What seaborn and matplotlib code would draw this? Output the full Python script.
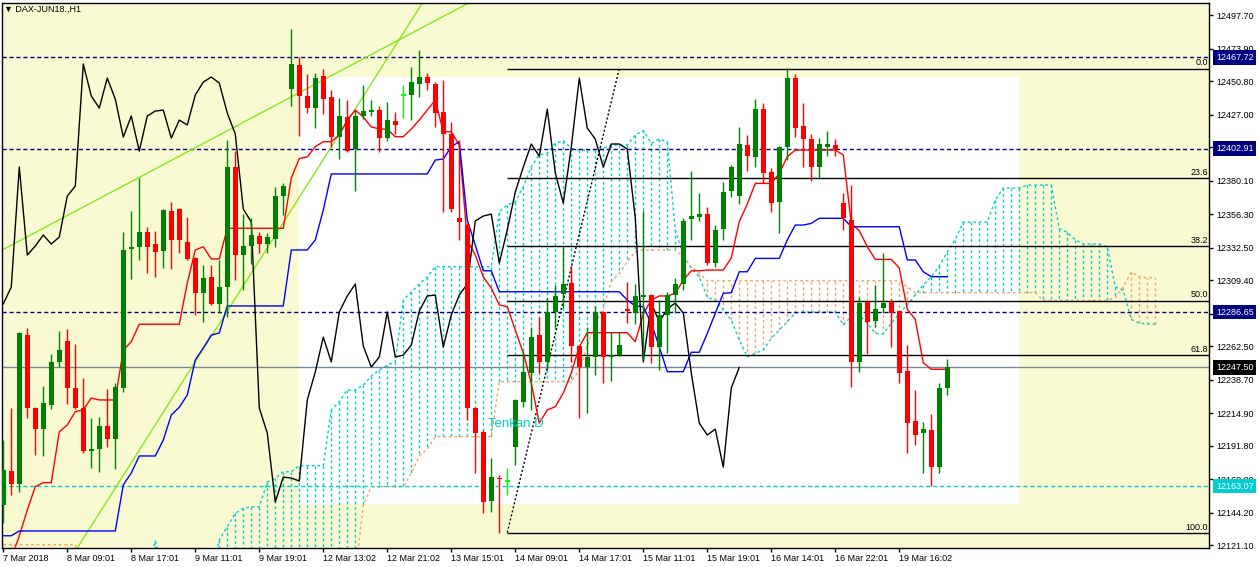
import numpy as np
import matplotlib
matplotlib.use("Agg")
import matplotlib.pyplot as plt
import matplotlib.transforms as mtransforms
from matplotlib.patches import Rectangle
import seaborn as sns

# DAX-JUN18 H1 candles, oldest first (bar 0 = 7 Mar 2018)
opens = [
    12149.6, 12174.0, 12164.6, 12270.4, 12218.6, 12203.6, 12220.7, 12251.3, 12266.2, 12232.8,
    12218.6, 12188.0, 12189.4, 12205.8, 12196.5, 12232.8, 12331.6, 12333.0, 12343.6, 12335.1,
    12330.1, 12358.6, 12360.0, 12336.6, 12325.2, 12300.3, 12311.7, 12292.5, 12304.6, 12389.8,
    12327.3, 12333.7, 12340.8, 12335.1, 12338.7, 12369.2, 12445.3, 12462.3, 12440.3, 12431.8,
    12454.5, 12439.6, 12411.1, 12425.4, 12402.6, 12426.1, 12428.9, 12430.3, 12410.4, 12422.5,
    12441.0, 12441.0, 12448.8, 12453.8, 12448.8, 12428.9, 12413.3, 12353.6, 12348.6, 12218.6,
    12201.5, 12152.5, 12169.5, 12166.7, 12190.9, 12222.8, 12243.5, 12270.4, 12251.3, 12286.8,
    12299.6, 12307.4, 12262.6, 12247.7, 12254.8, 12286.8, 12254.8, 12256.2, 12289.0, 12286.1,
    12297.5, 12298.9, 12261.9, 12284.7, 12298.9, 12306.7, 12352.9, 12354.3, 12356.4, 12321.6,
    12345.8, 12372.8, 12369.2, 12405.5, 12396.9, 12431.0, 12386.3, 12364.9, 12404.0, 12453.1,
    12419.0, 12409.7, 12389.8, 12404.0, 12405.5, 12364.2, 12352.2, 12251.3, 12293.9, 12280.4,
    12289.6, 12293.9, 12287.5, 12244.9, 12209.3, 12200.8, 12202.9, 12176.6, 12232.8,
]
highs = [
    12195.8, 12218.6, 12272.8, 12275.4, 12219.3, 12234.2, 12257.0, 12273.3, 12274.7, 12264.1,
    12239.9, 12211.5, 12212.2, 12232.1, 12236.4, 12343.6, 12358.6, 12382.0, 12347.2, 12344.3,
    12360.0, 12365.0, 12360.7, 12354.3, 12325.9, 12320.2, 12320.2, 12323.8, 12409.0, 12401.2,
    12356.4, 12353.6, 12343.6, 12342.9, 12375.6, 12378.5, 12487.9, 12468.0, 12455.9, 12456.6,
    12459.5, 12444.5, 12438.9, 12437.4, 12430.3, 12448.1, 12437.4, 12433.2, 12436.0, 12428.9,
    12448.1, 12460.9, 12473.0, 12456.6, 12450.2, 12451.7, 12421.8, 12409.0, 12350.0, 12219.3,
    12202.9, 12183.0, 12171.0, 12175.9, 12225.0, 12259.1, 12276.1, 12283.2, 12296.7, 12306.0,
    12333.0, 12319.5, 12263.3, 12276.1, 12291.1, 12287.5, 12272.6, 12272.6, 12308.1, 12306.7,
    12358.6, 12299.6, 12295.3, 12301.0, 12311.0, 12353.6, 12387.0, 12371.4, 12361.4, 12348.6,
    12379.2, 12391.2, 12418.3, 12412.6, 12438.1, 12435.3, 12389.1, 12404.7, 12460.2, 12455.9,
    12435.3, 12413.3, 12410.4, 12415.4, 12409.7, 12371.4, 12377.0, 12297.5, 12294.6, 12306.0,
    12328.7, 12296.0, 12288.2, 12263.3, 12231.4, 12208.6, 12214.3, 12236.4, 12253.4,
]
lows = [
    12136.9, 12156.7, 12159.1, 12211.5, 12185.1, 12184.4, 12217.9, 12247.7, 12221.5, 12218.0,
    12186.6, 12175.9, 12173.1, 12190.9, 12175.2, 12230.0, 12310.2, 12323.8, 12314.5, 12311.7,
    12318.1, 12317.3, 12328.7, 12323.8, 12284.7, 12279.7, 12291.8, 12286.1, 12283.2, 12309.5,
    12302.4, 12320.9, 12328.7, 12328.7, 12333.0, 12355.7, 12433.2, 12411.9, 12428.2, 12417.5,
    12427.5, 12404.0, 12395.5, 12400.5, 12372.8, 12423.9, 12426.1, 12400.5, 12408.3, 12413.3,
    12424.6, 12423.2, 12439.6, 12444.5, 12418.3, 12357.9, 12357.9, 12338.0, 12210.0, 12172.4,
    12144.0, 12144.7, 12129.8, 12156.7, 12178.1, 12219.6, 12217.2, 12243.5, 12245.6, 12276.1,
    12289.6, 12251.3, 12211.5, 12215.0, 12242.0, 12236.3, 12237.8, 12255.5, 12279.0, 12278.3,
    12252.7, 12250.6, 12245.6, 12257.7, 12286.1, 12302.4, 12338.0, 12351.5, 12320.2, 12318.8,
    12338.0, 12368.5, 12363.5, 12387.0, 12389.8, 12378.5, 12357.9, 12342.9, 12394.8, 12411.1,
    12389.8, 12379.9, 12381.3, 12397.6, 12397.6, 12345.1, 12233.5, 12244.2, 12257.0, 12276.1,
    12286.1, 12261.9, 12236.3, 12186.6, 12192.3, 12172.4, 12163.1, 12172.4, 12227.8,
]
closes = [
    12174.5, 12164.6, 12272.1, 12218.4, 12203.6, 12222.2, 12251.3, 12259.8, 12232.8, 12218.6,
    12188.0, 12189.4, 12205.8, 12196.5, 12233.5, 12330.9, 12333.0, 12343.6, 12333.0, 12329.4,
    12359.3, 12338.0, 12338.0, 12324.5, 12300.3, 12311.0, 12292.5, 12304.6, 12389.8, 12327.3,
    12333.7, 12341.5, 12335.1, 12340.1, 12369.2, 12376.3, 12463.0, 12440.3, 12431.8, 12453.1,
    12438.1, 12411.1, 12426.1, 12401.2, 12426.1, 12429.6, 12430.3, 12410.4, 12423.2, 12419.7,
    12441.0, 12450.2, 12453.8, 12449.5, 12428.2, 12413.3, 12360.0, 12350.8, 12218.6, 12200.8,
    12151.8, 12169.5, 12168.8, 12166.7, 12224.3, 12244.2, 12269.0, 12251.3, 12286.8, 12298.2,
    12306.7, 12262.6, 12247.7, 12254.8, 12286.8, 12254.8, 12256.2, 12263.3, 12287.5, 12298.2,
    12298.9, 12261.9, 12284.7, 12298.9, 12306.7, 12351.5, 12355.0, 12356.4, 12321.6, 12345.1,
    12372.1, 12389.8, 12406.2, 12397.6, 12431.0, 12385.6, 12364.2, 12404.0, 12453.1, 12417.5,
    12409.7, 12389.8, 12406.2, 12406.2, 12402.6, 12353.6, 12251.3, 12293.2, 12279.7, 12288.9,
    12293.2, 12286.1, 12243.5, 12207.9, 12199.4, 12203.6, 12176.6, 12232.8, 12247.5,
]

# Ichimoku lines
tenkan = [
    12100.0, 12112.0, 12127.6, 12146.1, 12162.7, 12165.5, 12165.5, 12201.7, 12206.5, 12216.0,
    12217.2, 12225.7, 12224.3, 12224.3, 12224.3, 12259.8, 12265.7, 12278.1, 12278.1, 12278.1,
    12278.1, 12278.1, 12278.1, 12307.4, 12330.9, 12333.2, 12324.5, 12324.5, 12346.3, 12346.3,
    12346.3, 12346.3, 12346.3, 12346.3, 12346.3, 12346.3, 12382.0, 12395.9, 12397.0, 12404.3,
    12407.8, 12407.8, 12412.6, 12423.2, 12430.3, 12425.4, 12418.3, 12417.0, 12416.6, 12411.4,
    12411.4, 12416.8, 12423.2, 12430.3, 12437.4, 12414.9, 12414.9, 12405.5, 12338.0, 12327.3,
    12311.7, 12303.8, 12291.8, 12290.6, 12274.0, 12257.7, 12236.3, 12207.9, 12217.2, 12219.5,
    12229.2, 12243.5, 12262.1, 12272.1, 12272.1, 12272.1, 12272.1, 12272.1, 12272.1, 12265.7,
    12285.4, 12295.3, 12298.2, 12298.2, 12300.1, 12309.5, 12316.1, 12316.1, 12316.6, 12316.6,
    12316.6, 12325.2, 12351.0, 12363.5, 12378.2, 12378.2, 12378.2, 12385.3, 12397.2, 12401.9,
    12401.9, 12401.9, 12401.9, 12401.9, 12401.9, 12398.4, 12349.8, 12344.6, 12333.2, 12324.2,
    12324.2, 12324.2, 12318.1, 12288.7, 12281.6, 12250.8, 12246.1, 12246.1, 12246.1,
]
kijun = [
    12127.8, 12127.8, 12131.2, 12131.2, 12131.2, 12131.2, 12131.2, 12131.2, 12131.2, 12131.2,
    12131.2, 12131.2, 12131.2, 12131.2, 12131.2, 12163.9, 12172.4, 12184.5, 12184.5, 12184.5,
    12195.8, 12213.6, 12219.1, 12227.8, 12252.7, 12261.2, 12270.4, 12271.9, 12291.1, 12291.1,
    12291.1, 12291.1, 12291.1, 12291.1, 12291.1, 12291.1, 12330.9, 12330.9, 12330.9, 12338.0,
    12359.3, 12384.9, 12384.9, 12384.9, 12384.9, 12384.9, 12384.9, 12384.9, 12384.9, 12384.9,
    12384.9, 12384.9, 12384.9, 12384.9, 12394.8, 12395.5, 12404.3, 12407.8, 12352.2, 12334.4,
    12316.1, 12316.1, 12301.2, 12301.2, 12301.2, 12301.2, 12301.2, 12301.2, 12301.2, 12301.2,
    12301.2, 12301.2, 12301.2, 12301.2, 12301.2, 12301.2, 12301.2, 12301.2, 12295.3, 12291.1,
    12290.6, 12278.8, 12262.1, 12244.4, 12244.4, 12244.4, 12258.2, 12258.2, 12271.6, 12285.9,
    12300.1, 12300.5, 12315.4, 12315.4, 12324.9, 12324.9, 12324.9, 12324.9, 12338.0, 12348.6,
    12348.6, 12349.8, 12353.4, 12353.4, 12353.4, 12353.4, 12347.4, 12347.4, 12347.4, 12347.4,
    12347.4, 12347.4, 12347.4, 12323.8, 12323.8, 12315.4, 12311.9, 12311.9, 12311.9,
]
# cloud spans run 26 bars past the last candle
span_a = [
    12100.0, 12100.0, 12100.0, 12100.0, 12100.0, 12100.0, 12100.0, 12100.0, 12100.0, 12100.0,
    12100.0, 12100.0, 12100.0, 12100.0, 12100.0, 12100.0, 12100.0, 12100.0, 12100.0, 12124.1,
    12100.0, 12100.0, 12100.0, 12100.0, 12100.0, 12100.0, 12100.0, 12124.8, 12134.2, 12143.8,
    12147.3, 12148.4, 12148.4, 12166.0, 12168.6, 12173.3, 12173.3, 12177.6, 12177.6, 12177.6,
    12177.6, 12217.2, 12223.1, 12231.4, 12231.4, 12234.9, 12241.3, 12245.6, 12249.1, 12251.5,
    12295.3, 12301.0, 12306.7, 12311.7, 12319.0, 12319.0, 12319.0, 12319.0, 12319.0, 12319.0,
    12319.0, 12319.0, 12358.1, 12362.8, 12365.2, 12375.8, 12390.0, 12398.4, 12399.6, 12406.7,
    12408.5, 12403.1, 12401.9, 12401.9, 12401.9, 12403.1, 12405.5, 12405.5, 12405.5, 12412.6,
    12415.8, 12406.7, 12409.7, 12407.8, 12345.1, 12327.0, 12317.9, 12311.9, 12297.2, 12295.3,
    12288.2, 12281.1, 12266.9, 12255.0, 12257.4, 12259.8, 12268.1, 12274.0, 12279.9, 12286.3,
    12286.8, 12286.8, 12286.8, 12286.8, 12286.8, 12277.6, 12283.5, 12284.7, 12278.8, 12271.6,
    12271.2, 12278.8, 12285.9, 12291.8, 12298.9, 12306.0, 12311.9, 12319.5, 12329.5, 12338.3,
    12350.7, 12350.7, 12350.7, 12350.7, 12366.4, 12374.9, 12374.9, 12374.9, 12377.0, 12377.0,
    12377.0, 12377.0, 12346.0, 12343.4, 12338.2, 12335.1, 12335.1, 12335.1, 12333.1, 12304.7,
    12302.1, 12281.5, 12279.0, 12278.3, 12278.3,
]
span_b = [
    12121.5, 12121.5, 12121.5, 12121.5, 12121.5, 12121.5, 12121.5, 12121.5, 12121.5, 12121.5,
    12100.0, 12100.0, 12100.0, 12100.0, 12100.0, 12100.0, 12100.0, 12100.0, 12100.0, 12100.0,
    12100.0, 12100.0, 12100.0, 12100.0, 12100.0, 12100.0, 12100.0, 12100.0, 12100.0, 12100.0,
    12100.0, 12100.0, 12100.0, 12100.0, 12100.0, 12100.0, 12100.0, 12100.0, 12100.0, 12100.0,
    12100.0, 12100.0, 12100.0, 12100.0, 12100.0, 12149.6, 12162.7, 12162.7, 12162.7, 12162.7,
    12162.7, 12172.2, 12184.5, 12189.4, 12198.2, 12198.2, 12198.2, 12198.2, 12198.2, 12198.2,
    12198.2, 12198.2, 12237.3, 12237.3, 12237.3, 12237.3, 12237.3, 12237.3, 12237.3, 12237.3,
    12237.3, 12237.3, 12245.6, 12262.1, 12278.8, 12289.4, 12308.3, 12314.3, 12322.5, 12329.6,
    12330.9, 12330.9, 12330.9, 12330.9, 12330.9, 12326.1, 12319.0, 12314.3, 12309.0, 12309.0,
    12309.0, 12309.0, 12309.0, 12309.0, 12309.0, 12309.0, 12309.0, 12309.0, 12309.0, 12309.0,
    12309.0, 12309.0, 12309.0, 12309.0, 12309.0, 12309.0, 12309.0, 12309.0, 12309.0, 12309.0,
    12309.0, 12309.0, 12309.0, 12304.8, 12300.6, 12300.6, 12300.6, 12300.6, 12300.6, 12300.6,
    12300.6, 12300.6, 12300.6, 12300.6, 12300.6, 12300.6, 12300.6, 12300.6, 12300.6, 12300.6,
    12295.0, 12295.0, 12295.0, 12295.0, 12295.0, 12295.0, 12295.0, 12295.0, 12295.0, 12297.0,
    12304.7, 12315.2, 12311.9, 12311.1, 12311.1,
]
chikou_shift = 26

# x axis labels, one every 8 bars
time_labels = ["7 Mar 2018", "8 Mar 09:01", "8 Mar 17:01", "9 Mar 11:01", "9 Mar 19:01",
               "12 Mar 13:02", "12 Mar 21:02", "13 Mar 15:01", "14 Mar 09:01", "14 Mar 17:01",
               "15 Mar 11:01", "15 Mar 19:01", "16 Mar 14:01", "16 Mar 22:01", "19 Mar 16:02"]
label_step = 8
price_ticks = [12497.70, 12473.90, 12450.80, 12427.00, 12403.90, 12380.10, 12356.30, 12332.50,
               12309.40, 12285.60, 12262.50, 12238.70, 12214.90, 12191.80, 12168.00, 12144.20, 12121.10]

# chart objects
hline_navy = [12467.72, 12402.91, 12286.65]
hline_cyan = 12163.07
last_price = 12247.50
fib_bars = [63, 77]
fib_prices = [12130.0, 12459.8]
fib_levels = [0.0, 23.6, 38.2, 50.0, 61.8, 100.0]
trend1_bars, trend1_prices = [0, 50], [12331.3, 12481.8]
trend2_bars, trend2_prices = [20, 40], [12215.6, 12395.2]
rect_bars = [37, 127]
rect_prices = [12150.4, 12453.8]
note_bar, note_price, note_text = 60.6, 12205.3, "Tenkan D"

BG = "#FAFAD2"
CYAN = "#00CED1"
SANDY = "#F4A460"
NAVY = "#000080"
DOT = (0, (2, 2))

sns.set_theme(style="white")
plt.rcParams["font.family"] = ["Liberation Sans", "DejaVu Sans"]

W, H = 1258, 567
fig = plt.figure(figsize=(W / 100, H / 100), dpi=100)
fig.patch.set_facecolor("white")
ax = fig.add_axes([2 / W, 19 / H, 1207 / W, 545 / H])
ax.set_facecolor(BG)
x0 = -0.16
ax.set_xlim(x0, x0 + 1207 / 8)
ax.set_ylim(12119.1, 12506.4)

bars = np.arange(len(closes))
bars_ext = np.arange(len(span_a))
o, h, l, c = map(np.array, (opens, highs, lows, closes))
sa, sb = np.array(span_a), np.array(span_b)

# white rectangle object
ax.add_patch(Rectangle((rect_bars[0], rect_prices[0]), rect_bars[1] - rect_bars[0],
                       rect_prices[1] - rect_prices[0], facecolor="white",
                       edgecolor="none", zorder=0.5))

# cloud hatch, one dotted stroke per bar
hatch_cols = np.where(sa >= sb, CYAN, SANDY)
ax.vlines(bars_ext, sa, sb, colors=hatch_cols, linestyles=[DOT], linewidth=1, zorder=1)
sns.lineplot(x=bars_ext, y=sa, color=CYAN, linewidth=1, linestyle=DOT, ax=ax, zorder=1.2)
sns.lineplot(x=bars_ext, y=sb, color=SANDY, linewidth=1, linestyle=DOT, ax=ax, zorder=1.2)

# horizontal lines
for p in hline_navy:
    ax.axhline(p, color=NAVY, linewidth=1, linestyle=(0, (3, 2)), zorder=2)
ax.axhline(hline_cyan, color=CYAN, linewidth=1, linestyle=(0, (3, 2)), zorder=2)
ax.axhline(last_price, color="#778899", linewidth=1, zorder=2)

# fibonacci retracement
x_right = ax.get_xlim()[1]
fib_span = fib_prices[1] - fib_prices[0]
for lev in fib_levels:
    p = fib_prices[1] - fib_span * lev / 100
    ax.hlines(p, fib_bars[0], x_right, color="black", linewidth=1, zorder=2)
    ax.text(x_right - 0.15, p + 0.8, f"{lev:.1f}", ha="right", va="bottom",
            fontsize=6.5, color="black", zorder=2)
ax.plot(fib_bars, fib_prices, color="black", linewidth=1, linestyle=(0, (1.5, 1.5)), zorder=2)

# trend lines
ax.axline((trend1_bars[0], trend1_prices[0]), (trend1_bars[1], trend1_prices[1]),
          color="#86E81E", linewidth=1, zorder=2)
ax.axline((trend2_bars[0], trend2_prices[0]), (trend2_bars[1], trend2_prices[1]),
          color="#86E81E", linewidth=1, zorder=2)

# tenkan, kijun, chikou
sns.lineplot(x=bars, y=tenkan, color="#FF0000", linewidth=1, ax=ax, zorder=3)
sns.lineplot(x=bars, y=kijun, color="#0000FF", linewidth=1, ax=ax, zorder=3)
sns.lineplot(x=bars[:len(closes) - chikou_shift], y=c[chikou_shift:], color="black",
             linewidth=1, ax=ax, zorder=3)

# candles
cols = np.where(c == o, "#00FF00", np.where(c > o, "#008000", "#FF0000"))
ax.vlines(bars, l, h, colors=cols, linewidth=1, zorder=4)
body_h = np.maximum(np.abs(c - o), 0.8)
body_lo = np.where(np.abs(c - o) < 0.8, np.minimum(o, c) - 0.4, np.minimum(o, c))
ax.bar(bars, body_h, bottom=body_lo, width=0.62, color=cols, linewidth=0, zorder=4.1)

ax.text(note_bar, note_price, note_text, color=CYAN, fontsize=9.5, va="baseline",
        ha="left", zorder=5)

# axes styling
for s in ax.spines.values():
    s.set_color("black")
    s.set_linewidth(1)
ax.yaxis.tick_right()
ax.set_yticks(price_ticks)
ax.set_yticklabels([f"{v:.2f}" for v in price_ticks])
ax.tick_params(axis="y", which="both", right=True, left=False, labelright=True,
               labelleft=False, length=3, width=1, pad=2, labelsize=6.5, colors="black")
ax.set_xticks(bars[::label_step][:len(time_labels)])
ax.set_xticklabels(time_labels)
ax.tick_params(axis="x", bottom=True, length=3, width=1, pad=1.5, labelsize=6.5, colors="black")
for lbl in ax.get_xticklabels():
    lbl.set_horizontalalignment("left")
ax.set_xlabel("")
ax.set_ylabel("")
ax.grid(False)

# price boxes on the right scale
trans = mtransforms.blended_transform_factory(ax.transAxes, ax.transData)
box_x = 1 + 7 / 1207
boxes = [(p, NAVY) for p in hline_navy] + [(hline_cyan, CYAN), (last_price, "black")]
for p, fc in boxes:
    ax.text(box_x, p, f"{p:.2f}", transform=trans, ha="left", va="center", color="white",
            fontsize=6.5, clip_on=False, zorder=10,
            bbox=dict(boxstyle="square,pad=0.3", fc=fc, ec="none"))

fig.text(4 / W, 1 - 9 / H, "\u25bc DAX-JUN18.,H1", fontsize=6.5, va="center", ha="left",
         color="black")

fig.savefig("out.png", dpi=100)
